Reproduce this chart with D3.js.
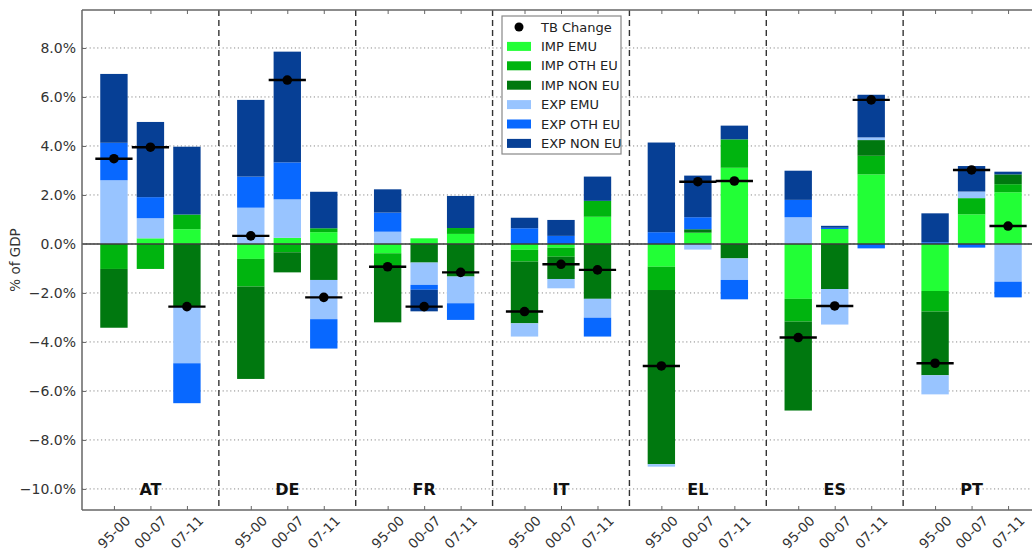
<!DOCTYPE html>
<html>
<head>
<meta charset="utf-8">
<script src="https://cdn.jsdelivr.net/npm/d3@7"></script>
<style>
  html, body { margin: 0; padding: 0; background: #fff; }
  svg { display: block; font-family: "DejaVu Sans", sans-serif; }
</style>
</head>
<body>
<svg id="chart" width="1032" height="553"></svg>
<script>
// Countries and sub-periods (country-major order for every series array)
const countries = ["AT", "DE", "FR", "IT", "EL", "ES", "PT"];
const periods = ["95-00", "00-07", "07-11"];

// Contributions to the trade balance change, % of GDP
const impEmu = [0, 0.23, 0.6, -0.61, 0.25, 0.48, -0.38, 0.23, 0.41, -0.24, -0.15, 1.11, -0.93, 0.46, 3.11, -2.24, 0.61, 2.84, -1.92, 1.21, 2.11];
const impOthEu = [-1.02, -1.02, 0.6, -1.13, -0.34, 0.16, -0.48, 0, 0.24, -0.48, -0.37, 0.65, -0.95, 0, 1.16, -0.93, 0, 0.76, -0.84, 0.66, 0.33];
const impNonEu = [-2.40, 0, -2.56, -3.77, -0.82, -1.47, -2.34, -0.76, -1.33, -2.52, -0.91, -2.24, -7.11, 0.14, -0.59, -3.63, -1.84, 0.64, -2.60, 0, 0.40];
const expEmu = [2.6, 0.82, -2.31, 1.48, 1.57, -1.60, 0.50, -0.91, -1.09, -0.54, -0.38, -0.77, -0.10, -0.23, -0.88, 1.09, -1.45, 0.11, -0.78, 0.27, -1.54];
const expOthEu = [1.53, 0.86, -1.63, 1.27, 1.51, -1.20, 0.78, -0.20, -0.68, 0.64, 0.33, -0.77, 0.48, 0.49, -0.79, 0.71, 0.05, -0.18, 0.07, -0.15, -0.64];
const expNonEu = [2.81, 3.07, 2.77, 3.13, 4.52, 1.49, 0.95, -0.88, 1.31, 0.43, 0.65, 0.99, 3.66, 1.70, 0.56, 1.19, 0.08, 1.74, 1.18, 1.04, 0.11];
// Trade balance change
const tbChange = [3.48, 3.95, -2.56, 0.33, 6.69, -2.18, -0.93, -2.56, -1.16, -2.76, -0.83, -1.06, -4.98, 2.54, 2.57, -3.82, -2.53, 5.88, -4.87, 3.02, 0.73];

const seriesNames = ["IMP EMU", "IMP OTH EU", "IMP NON EU", "EXP EMU", "EXP OTH EU", "EXP NON EU"];
const seriesValues = [impEmu, impOthEu, impNonEu, expEmu, expOthEu, expNonEu];
const seriesColors = ["#22ff36", "#00b40f", "#00780f", "#98c4ff", "#0868ff", "#063f95"];

const yTicks = [-10, -8, -6, -4, -2, 0, 2, 4, 6, 8];

// Build rows for the stack
const rows = [];
countries.forEach((c, ci) => periods.forEach((p, pi) => {
  const idx = ci * periods.length + pi;
  const row = { country: c, period: p, pos: ci * 3.75 + 0.875 + pi, tb: tbChange[idx] };
  seriesNames.forEach((s, si) => { row[s] = seriesValues[si][idx]; });
  rows.push(row);
}));

const stacked = d3.stack()
  .keys(seriesNames)
  .order(d3.stackOrderNone)
  .offset(d3.stackOffsetDiverging)(rows);

const svg = d3.select("#chart");
const plot = { left: 82, top: 10, bottom: 510 };

const x = d3.scaleLinear().domain([0, countries.length * 3.75]).range([plot.left, 1040]);
const y = d3.scaleLinear().domain([-10.86, 9.55]).range([plot.bottom, plot.top]);
const barW = x(0.75) - x(0);

// Horizontal dotted grid
svg.append("g").selectAll("line").data(yTicks).join("line")
  .attr("x1", plot.left).attr("x2", 1032)
  .attr("y1", d => y(d)).attr("y2", d => y(d))
  .attr("stroke", "#8a8a8a").attr("stroke-width", 1)
  .attr("stroke-dasharray", "1.2,2.6");

// Dashed country separators
const seps = d3.range(1, countries.length).map(i => i * 3.75);
svg.append("g").selectAll("line").data(seps).join("line")
  .attr("x1", d => x(d)).attr("x2", d => x(d))
  .attr("y1", plot.top).attr("y2", plot.bottom)
  .attr("stroke", "#333").attr("stroke-width", 1.4)
  .attr("stroke-dasharray", "6,4");

// Stacked bars
svg.append("g").selectAll("g").data(stacked).join("g")
  .attr("fill", (d, i) => seriesColors[i])
  .selectAll("rect").data(d => d).join("rect")
  .attr("x", d => x(d.data.pos) - barW / 2)
  .attr("width", barW)
  .attr("y", d => y(Math.max(d[0], d[1])))
  .attr("height", d => Math.abs(y(d[0]) - y(d[1])));

// Zero line
svg.append("line")
  .attr("x1", plot.left).attr("x2", 1032)
  .attr("y1", y(0)).attr("y2", y(0))
  .attr("stroke", "#3a3a3a").attr("stroke-width", 1.5);

// Trade balance markers
const tbG = svg.append("g");
tbG.selectAll("line").data(rows).join("line")
  .attr("x1", d => x(d.pos - 0.51)).attr("x2", d => x(d.pos + 0.51))
  .attr("y1", d => y(d.tb)).attr("y2", d => y(d.tb))
  .attr("stroke", "#000").attr("stroke-width", 2.4);
tbG.selectAll("circle").data(rows).join("circle")
  .attr("cx", d => x(d.pos)).attr("cy", d => y(d.tb))
  .attr("r", 4.8).attr("fill", "#000");

// Frame
const frame = svg.append("g").attr("stroke", "#666").attr("stroke-width", 1.5);
frame.append("line").attr("x1", plot.left).attr("x2", plot.left).attr("y1", plot.top).attr("y2", plot.bottom);
frame.append("line").attr("x1", plot.left).attr("x2", 1032).attr("y1", plot.top).attr("y2", plot.top);
frame.append("line").attr("x1", plot.left).attr("x2", 1032).attr("y1", plot.bottom).attr("y2", plot.bottom);

// Y axis
const yAxis = svg.append("g")
  .attr("transform", `translate(${plot.left},0)`)
  .call(d3.axisLeft(y).tickValues(yTicks).tickSize(-4).tickPadding(6)
    .tickFormat(d => d3.format(".1f")(d) + "%"));
yAxis.select(".domain").remove();
yAxis.selectAll(".tick line").attr("stroke", "#666");
yAxis.selectAll("text").attr("font-size", 14).attr("fill", "#333")
  .attr("font-family", "DejaVu Sans, sans-serif");

// Bar ticks (top and bottom, pointing inward)
svg.append("g").attr("transform", `translate(0,${plot.bottom})`)
  .call(d3.axisBottom(x).tickValues(rows.map(r => r.pos)).tickSize(-4).tickFormat(""))
  .call(g => g.select(".domain").remove())
  .call(g => g.selectAll(".tick line").attr("stroke", "#666"));
svg.append("g").attr("transform", `translate(0,${plot.top})`)
  .call(d3.axisTop(x).tickValues(rows.map(r => r.pos)).tickSize(-4).tickFormat(""))
  .call(g => g.select(".domain").remove())
  .call(g => g.selectAll(".tick line").attr("stroke", "#666"));

// Rotated period labels
svg.append("g").selectAll("text").data(rows).join("text")
  .attr("transform", d => `translate(${x(d.pos)},${plot.bottom + 22}) rotate(-45)`)
  .attr("text-anchor", "middle").attr("dominant-baseline", "central")
  .attr("font-size", 13.5).attr("fill", "#333")
  .text(d => d.period);

// Country labels
svg.append("g").selectAll("text").data(countries).join("text")
  .attr("x", (d, i) => x(i * 3.75 + 1.875))
  .attr("y", y(-10) + 6)
  .attr("text-anchor", "middle")
  .attr("font-size", 16).attr("font-weight", "bold").attr("fill", "#111")
  .text(d => d);

// Y axis title
svg.append("text")
  .attr("transform", `translate(20,${(plot.top + plot.bottom) / 2}) rotate(-90)`)
  .attr("text-anchor", "middle")
  .attr("font-size", 13.5).attr("fill", "#333")
  .text("% of GDP");

// Legend
const legend = svg.append("g").attr("transform", "translate(502,16)");
legend.append("rect").attr("width", 119).attr("height", 138)
  .attr("fill", "#fff").attr("stroke", "#888").attr("stroke-width", 1.2);
const legendItems = [{ name: "TB Change", marker: true }]
  .concat(seriesNames.map((s, i) => ({ name: s, color: seriesColors[i] })));
const li = legend.selectAll("g").data(legendItems).join("g")
  .attr("transform", (d, i) => `translate(0,${11 + i * 19.4})`);
li.filter(d => d.marker).append("circle").attr("cx", 17).attr("cy", 0).attr("r", 4.5).attr("fill", "#000");
li.filter(d => !d.marker).append("rect")
  .attr("x", 5).attr("y", -4.5).attr("width", 24).attr("height", 9)
  .attr("fill", d => d.color);
li.append("text").attr("x", 39).attr("y", 0).attr("dominant-baseline", "central")
  .attr("font-size", 13).attr("fill", "#222")
  .text(d => d.name);
</script>
</body>
</html>
